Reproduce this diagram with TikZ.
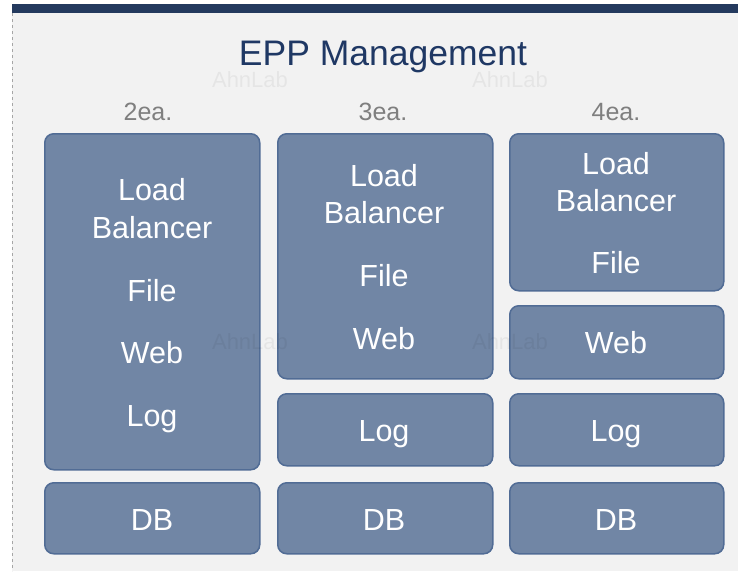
\documentclass[tikz,border=0pt]{standalone}
\usepackage{fontspec}
\setmainfont{Liberation Sans}
\definecolor{bg}{HTML}{F2F2F2}
\definecolor{navy}{HTML}{243A5E}
\definecolor{titlec}{HTML}{1F3864}
\definecolor{boxfill}{HTML}{7186A5}
\definecolor{boxline}{HTML}{516C95}
\definecolor{eac}{HTML}{7F7F7F}
\tikzset{
  srvbox/.style={draw=boxline, fill=boxfill, line width=1.5pt, rounded corners=9pt, anchor=north west, inner sep=0pt},
  lbl/.style={text=white, font=\fontsize{30.5}{36}\selectfont, inner sep=0pt, anchor=base},
  eatxt/.style={text=eac, font=\fontsize{25}{30}\selectfont, inner sep=0pt, anchor=base},
  wmark/.style={text=black, text opacity=0.05, font=\fontsize{22}{26}\selectfont, inner sep=0pt}
}
\begin{document}
\begin{tikzpicture}[x=1pt,y=-1pt]
\useasboundingbox (0,0) rectangle (738,571);
% background
\fill[white] (0,0) rectangle (738,571);
\fill[bg] (12,13) rectangle (738,571);
\fill[navy] (12,4) rectangle (738,13);
\draw[gray!70, dashed, line width=0.6pt] (12,13) -- (12,571);
% title
\node[text=titlec, font=\fontsize{35.5}{40}\selectfont, inner sep=0pt, anchor=base] (title) at (383,65.5) {EPP Management};
\node[eatxt] (ea2) at (148,120) {2ea.};
\node[eatxt] (ea3) at (383,120) {3ea.};
\node[eatxt] (ea4) at (616,120) {4ea.};
% column 1
\node[srvbox, minimum width=215pt, minimum height=336pt] (c1main) at (44,133) {};
\node[srvbox, minimum width=215pt, minimum height=71pt] (c1db) at (44,482) {};
\node[lbl] (c1load) at (152,200.5) {Load};
\node[lbl] (c1bal) at (152,238.5) {Balancer};
\node[lbl] (c1file) at (152,301.5) {File};
\node[lbl] (c1web) at (152,363) {Web};
\node[lbl] (c1log) at (152,426.5) {Log};
\node[lbl] (c1dbt) at (152,530) {DB};
% column 2
\node[srvbox, minimum width=215pt, minimum height=245pt] (c2main) at (277,133) {};
\node[srvbox, minimum width=215pt, minimum height=72pt] (c2log) at (277,393) {};
\node[srvbox, minimum width=215pt, minimum height=71pt] (c2db) at (277,482) {};
\node[lbl] (c2load) at (384,186) {Load};
\node[lbl] (c2bal) at (384,223.5) {Balancer};
\node[lbl] (c2file) at (384,286.5) {File};
\node[lbl] (c2web) at (384,349) {Web};
\node[lbl] (c2logt) at (384,441) {Log};
\node[lbl] (c2dbt) at (384,530) {DB};
% column 3
\node[srvbox, minimum width=214pt, minimum height=157pt] (c3main) at (509,133) {};
\node[srvbox, minimum width=214pt, minimum height=73pt] (c3web) at (509,305) {};
\node[srvbox, minimum width=214pt, minimum height=72pt] (c3log) at (509,393) {};
\node[srvbox, minimum width=214pt, minimum height=71pt] (c3db) at (509,482) {};
\node[lbl] (c3load) at (616,174) {Load};
\node[lbl] (c3bal) at (616,211.5) {Balancer};
\node[lbl] (c3file) at (616,273.5) {File};
\node[lbl] (c3webt) at (616,353.5) {Web};
\node[lbl] (c3logt) at (616,441) {Log};
\node[lbl] (c3dbt) at (616,530) {DB};
% watermarks
\node[wmark] (wa1) at (250,80) {AhnLab};
\node[wmark] (wa2) at (510,80) {AhnLab};
\node[wmark] (wb1) at (250,342) {AhnLab};
\node[wmark] (wb2) at (510,342) {AhnLab};
\end{tikzpicture}
\end{document}
